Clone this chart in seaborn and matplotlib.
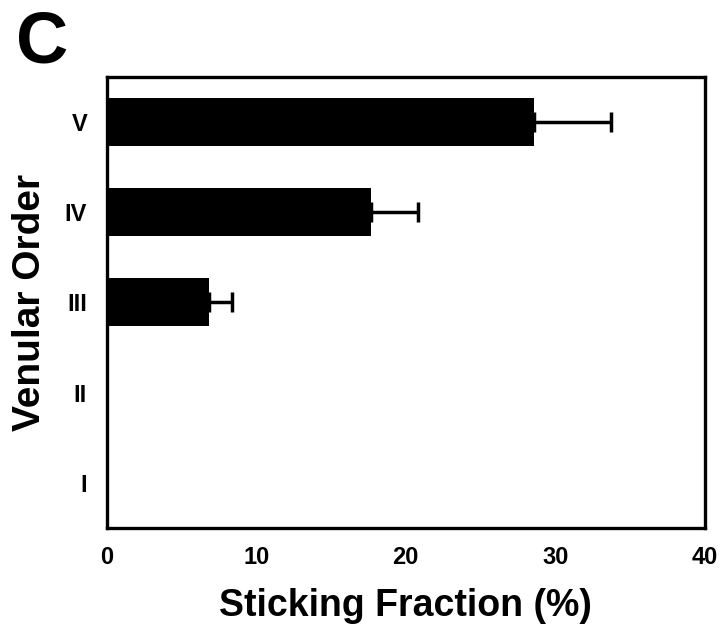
import pandas as pd
import matplotlib.pyplot as plt
import seaborn as sns

orders = ['V', 'IV', 'III', 'II', 'I']
fraction = [28.6, 17.7, 6.85, 0, 0]
sem = [5.1, 3.1, 1.55, 0, 0]

dataset = pd.DataFrame({"Venular Order": orders, "Sticking Fraction": fraction, "SEM": sem})

sns.set_style("white")
plt.rcParams['font.family'] = ['Liberation Sans', 'DejaVu Sans']
plt.rcParams['font.weight'] = 'bold'
plt.rcParams['text.color'] = 'black'
plt.rcParams['xtick.color'] = 'black'
plt.rcParams['ytick.color'] = 'black'
plt.rcParams['axes.labelcolor'] = 'black'

fig = plt.figure(figsize=(7.2, 6.26), dpi=100)
ax = fig.add_axes([0.148, 0.157, 0.831, 0.72])

sns.barplot(x="Sticking Fraction", y="Venular Order", data=dataset, order=orders,
            color='black', width=0.53, orient='h', ax=ax, errorbar=None,
            saturation=1, linewidth=0, zorder=3)

# one-sided error bars, only where there is a bar (drawn behind the bars)
dataset["pos"] = range(len(orders))
has_err = dataset[dataset["SEM"] > 0]
ax.errorbar(has_err["Sticking Fraction"], has_err["pos"],
            xerr=[[0] * len(has_err), has_err["SEM"]], fmt='none', ecolor='black',
            elinewidth=2.5, capsize=7, capthick=2.5, zorder=2)

ax.set_xlim(0, 40)
ax.set_ylim(4.5, -0.5)
ax.set_xticks([0, 10, 20, 30, 40])
ax.tick_params(axis='x', direction='out', length=8, width=2, labelsize=17, pad=5)
ax.tick_params(axis='y', length=0, labelsize=17, pad=14)
for lab in ax.get_xticklabels() + ax.get_yticklabels():
    lab.set_fontweight('bold')

for s in ax.spines.values():
    s.set_linewidth(2.4)
    s.set_color('black')

ax.set_xlabel('Sticking Fraction (%)', fontsize=27, fontweight='bold', labelpad=14)
ax.set_ylabel('Venular Order', fontsize=28, fontweight='bold', labelpad=12)

fig.text(0.022, 0.985, 'C', fontsize=52, fontweight='bold', va='top', ha='left')

fig.savefig("out.png", dpi=100)
